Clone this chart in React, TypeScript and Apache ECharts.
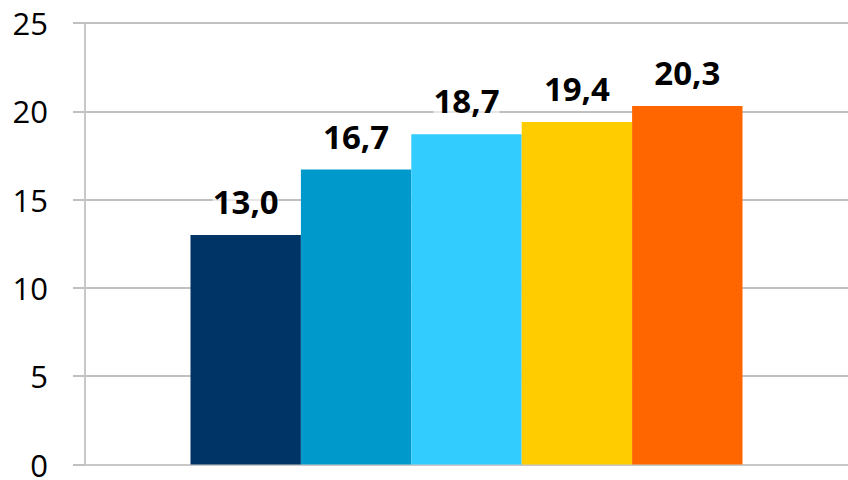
import React, { useEffect, useRef } from "react";
import * as echarts from "echarts";

const categories = [""];
const seriesNames = ["A", "B", "C", "D", "E"];
const values = [13.0, 16.7, 18.7, 19.4, 20.3];
const colors = ["#003366", "#0099CC", "#33CCFF", "#FFCC00", "#FF6600"];
const yTicks = [0, 5, 10, 15, 20, 25];

export default function App() {
  const ref = useRef<HTMLDivElement>(null);
  useEffect(() => {
    if (!ref.current) return;
    const chart = echarts.init(ref.current, null, { renderer: "svg" });
    const font = "'Open Sans', 'Noto Sans', sans-serif";
    chart.setOption({
      animation: false,
      grid: { left: 85, top: 23, right: -10, bottom: 11 },
      xAxis: {
        type: "category",
        data: categories,
        axisLine: { show: true, lineStyle: { color: "#c8c8c8", width: 2 } },
        axisTick: { show: false },
        axisLabel: { show: false },
      },
      yAxis: {
        type: "value",
        min: yTicks[0],
        max: yTicks[yTicks.length - 1],
        interval: 5,
        axisLine: { show: true, lineStyle: { color: "#c8c8c8", width: 2 } },
        axisTick: { show: true, length: 12, lineStyle: { color: "#c0c0c0", width: 2 } },
        splitLine: { show: true, lineStyle: { color: "#c0c0c0", width: 2 } },
        axisLabel: {
          margin: 37,
          color: "#000",
          fontSize: 31,
          fontFamily: font,
        },
      },
      series: values.map((v, i) => ({
        name: seriesNames[i],
        type: "bar",
        data: [v],
        barWidth: 110.4,
        barGap: "0%",
        itemStyle: { color: colors[i] },
        label: {
          show: true,
          position: "top",
          distance: 17,
          color: "#000",
          fontSize: 33,
          fontWeight: "bold",
          fontFamily: font,
          backgroundColor: "rgba(255,255,255,0.6)",
          formatter: (p: any) => p.value.toFixed(1).replace(".", ","),
        },
      })),
    });
    return () => chart.dispose();
  }, []);
  return <div ref={ref} style={{ width: 848, height: 480, position: "absolute", left: 0, top: 0 }} />;
}
